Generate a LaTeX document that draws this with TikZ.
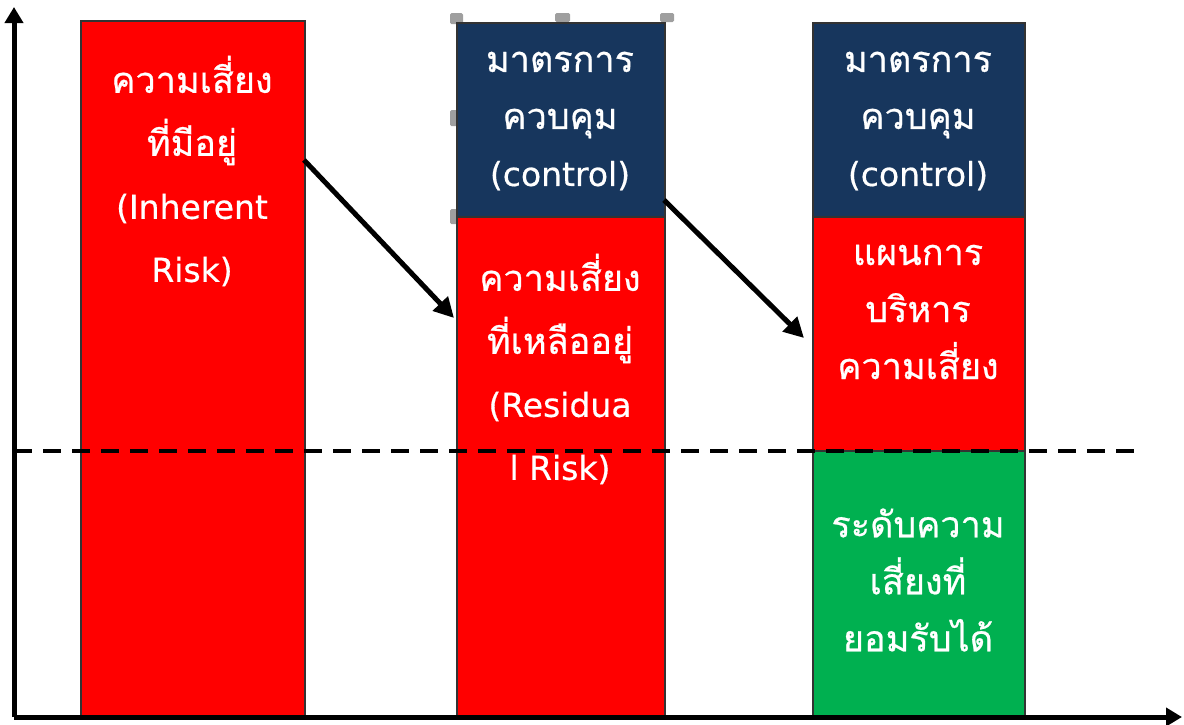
\documentclass[tikz,border=0pt]{standalone}
\usepackage{fontspec}
\newfontfamily\thaifont[Script=Thai,FakeBold=0.6]{Loma}
\newfontfamily\latinfont[FakeBold=0.5]{DejaVu Sans}
\newcommand\latw[1]{{\latinfont\fontsize{33pt}{\the\baselineskip}\selectfont #1}}
\usetikzlibrary{arrows.meta}
\definecolor{navyc}{RGB}{23,54,93}
\definecolor{greenc}{RGB}{0,176,80}
\definecolor{redc}{RGB}{255,0,0}
\begin{document}
\begin{tikzpicture}[x=1pt,y=-1pt,
  bar/.style={draw=black!80,line width=1.5pt,anchor=north west,inner sep=0pt},
  txt/.style={text=white,align=center,font=\thaifont\fontsize{36}{57}\selectfont},
  wide/.style={font=\thaifont\fontsize{36}{63}\selectfont},
  axis/.style={line width=5pt,-{Triangle[length=16pt,width=18pt]}},
  flow/.style={line width=5pt,-{Triangle[length=20pt,width=20pt]}},
  handle/.style={fill=gray!75,rounded corners=1.5pt}]
\useasboundingbox (0,0) rectangle (1184,724);
% selection handles
\fill[handle] (450,13) rectangle (463,24);
\fill[handle] (555,13) rectangle (570,22);
\fill[handle] (660,13) rectangle (674,22);
\fill[handle] (450,110) rectangle (458,126);
\fill[handle] (450,209) rectangle (458,224);
% bars
\node[bar,fill=redc,minimum width=224pt,minimum height=696pt] (b1) at (80,20) {};
\node[bar,fill=navyc,minimum width=208pt,minimum height=194pt] (b2n) at (456,22) {};
\node[bar,fill=redc,minimum width=208pt,minimum height=500pt] (b2r) at (456,216) {};
\node[bar,fill=navyc,minimum width=212pt,minimum height=194pt] (b3n) at (812,22) {};
\node[bar,fill=redc,minimum width=212pt,minimum height=234pt] (b3r) at (812,216) {};
\node[bar,fill=greenc,minimum width=212pt,minimum height=266pt] (b3g) at (812,450) {};
% texts
\node[txt,wide] (t1) at (192,171) {ความเสี่ยง\\ที่มีอยู่\\\latw{(Inherent}\\\latw{Risk)}};
\node[txt] (t2) at (560,121) {มาตรการ\\ควบคุม\\\latw{(control)}};
\node[txt,wide] (t3) at (560,369) {ความเสี่ยง\\ที่เหลืออยู่\\\latw{(Residua}\\\latw{l Risk)}};
\node[txt] (t4) at (918,121) {มาตรการ\\ควบคุม\\\latw{(control)}};
\node[txt] (t5) at (918,312) {แผนการ\\บริหาร\\ความเสี่ยง};
\node[txt] (t6) at (918,580) {ระดับความ\\เสี่ยงที่\\ยอมรับได้};
% axes
\coordinate (o) at (14,717);
\coordinate (ytop) at (14,7);
\coordinate (xend) at (1182,717);
\draw[axis] (o) -- (ytop);
\draw[axis] (o) -- (xend);
% dashed threshold
\coordinate (d1) at (14,451);
\coordinate (d2) at (1142,451);
\draw[line width=3.5pt,dash pattern=on 18pt off 11pt] (d1) -- (d2);
% flow arrows
\coordinate (a1s) at (304,160);
\coordinate (a1e) at (454,318);
\coordinate (a2s) at (664,200);
\coordinate (a2e) at (804,338);
\draw[flow] (a1s) -- (a1e);
\draw[flow] (a2s) -- (a2e);
\end{tikzpicture}
\end{document}
